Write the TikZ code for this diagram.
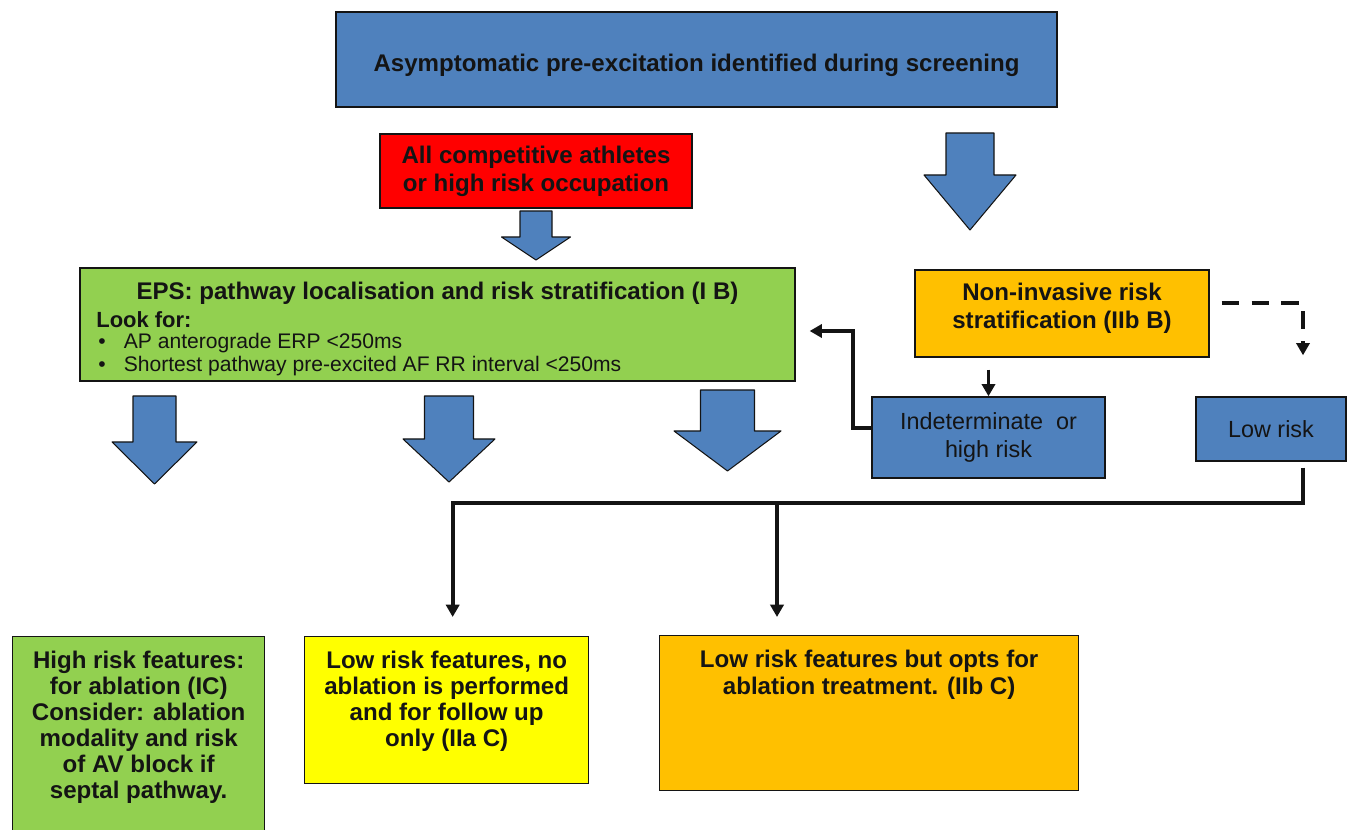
\documentclass[tikz,border=0pt]{standalone}
\usepackage{fontspec}
\setmainfont{Liberation Sans}
\definecolor{boxblue}{HTML}{4F81BD}
\definecolor{alertred}{HTML}{FF0000}
\definecolor{leafgreen}{HTML}{92D050}
\definecolor{amber}{HTML}{FFC000}
\definecolor{lemon}{HTML}{FFFF00}
\definecolor{inkblack}{HTML}{141414}
\usetikzlibrary{arrows.meta,positioning,calc}

% block arrow: centre x, top, shoulder, tip, shaft half width, head half width
\newcommand\blockarrow[6]{%
  \filldraw[fill=boxblue,draw=inkblack,line width=0.6pt,line join=round]
    (#1-#5,#2) -- (#1+#5,#2) -- (#1+#5,#3) -- (#1+#6,#3) -- (#1,#4)
    -- (#1-#6,#3) -- (#1-#5,#3) -- cycle;}

\begin{document}
\begin{tikzpicture}[x=0.02cm,y=-0.02cm,
  box/.style={draw=inkblack,line width=0.8pt,inner sep=0pt},
  bold/.style={text=inkblack,align=center,font=\fontsize{13.7pt}{16pt}\selectfont\bfseries},
  plain/.style={text=inkblack,align=center,font=\fontsize{13.3pt}{16pt}\selectfont},
  conn/.style={draw=inkblack,line width=2.1pt,-{Triangle[length=7pt,width=7.5pt]}},
  dconn/.style={conn,dash pattern=on 10pt off 7pt}]
  \useasboundingbox (0,0) rectangle (1349,830);

  % top row
  \node[box,fill=boxblue,minimum width=14.42cm,minimum height=1.9cm] (screen) at (696.5,59.5) {};
  \node[bold] (screenText) at (696.5,65) {Asymptomatic pre-excitation identified during screening};
  \node[box,bold,fill=alertred,minimum width=6.24cm,minimum height=1.48cm] (athletes) at (536,171)
    {All competitive athletes\\or high risk occupation};
  \blockarrow{536}{211}{237}{260}{16}{34.5}
  \blockarrow{970}{133}{175}{230}{24}{46}

  % EPS box
  \node[box,fill=leafgreen,minimum width=14.3cm,minimum height=2.26cm] (eps) at (437.5,324.5) {};
  \node[bold] (epsTitle) at (437.5,293) {EPS: pathway localisation and risk stratification (I B)};
  \node[text=inkblack,anchor=west,inner sep=0pt,font=\fontsize{12.5pt}{14pt}\selectfont\bfseries]
    (lookFor) at (96,320) {Look for:};
  \node[text=inkblack,anchor=west,inner sep=0pt,font=\fontsize{12pt}{14pt}\selectfont]
    (bulletA) at (98,343) {\makebox[14.5pt][l]{•}AP anterograde ERP <250ms};
  \node[text=inkblack,anchor=west,inner sep=0pt,font=\fontsize{12pt}{14pt}\selectfont]
    (bulletB) at (98,366) {\makebox[14.5pt][l]{•}Shortest pathway pre-excited AF RR interval <250ms};

  % non-invasive branch
  \node[box,bold,fill=amber,minimum width=5.88cm,minimum height=1.74cm] (noninv) at (1062,313.5)
    {Non-invasive risk\\stratification (IIb B)\\[-7pt]\mbox{}};
  \node[box,plain,fill=boxblue,minimum width=4.66cm,minimum height=1.62cm] (indet) at (988.5,437.5)
    {Indeterminate~ or\\high risk};
  \node[box,plain,fill=boxblue,minimum width=3cm,minimum height=1.28cm] (lowrisk) at (1271,429)
    {Low risk};

  \draw[conn] ($(noninv.south -| indet.north)+(0,12)$) -- (indet.north);
  \draw[conn] ([yshift=5.4pt]indet.west) -- ++(-18,0) |- ($(eps.east)+(14,6.5)$);
  \draw[dconn] ($(noninv.east)+(12,-10.5)$) -| ($(lowrisk.north)+(32,-41)$);

  % EPS outcomes
  \blockarrow{154.5}{396}{442}{484}{21.5}{42.5}
  \blockarrow{449}{396}{439}{482}{24.5}{46}
  \blockarrow{727.5}{390}{431}{471}{27}{53.5}

  % bottom row
  \node[box,fill=leafgreen,anchor=north west,minimum width=5.04cm,minimum height=4.1cm] (highabl) at (12,636) {};
  \node[bold,anchor=north,inner sep=0pt,font=\fontsize{13.7pt}{14.8pt}\selectfont\bfseries]
    (highablText) at ([yshift=-8.5pt]highabl.north)
    {High risk features:\\for ablation (IC)\\Consider: ablation\\modality and risk\\of AV block if\\septal pathway.};
  \node[box,fill=lemon,anchor=north west,minimum width=5.68cm,minimum height=2.94cm] (followup) at (304,636) {};
  \node[bold,anchor=north,inner sep=0pt,font=\fontsize{13.7pt}{14.8pt}\selectfont\bfseries]
    (followupText) at ([yshift=-8.5pt]followup.north)
    {Low risk features, no\\ablation is performed\\and for follow up\\only (IIa C)};
  \node[box,fill=amber,anchor=north west,minimum width=8.38cm,minimum height=3.1cm] (optabl) at (659,635) {};
  \node[bold,anchor=north,inner sep=0pt,font=\fontsize{13.7pt}{15.5pt}\selectfont\bfseries]
    (optablText) at ([yshift=-8.5pt]optabl.north)
    {Low risk features but opts for\\ablation treatment. (IIb C)};

  % low risk route to the outcomes
  \coordinate (busM) at (777,502);
  \draw[conn] ($(lowrisk.south)+(32,6)$) -- ++(0,35) -| ($(followup.north)+(6,-19)$);
  \draw[conn] (busM) -- ($(busM |- optabl.north)+(0,-18)$);
\end{tikzpicture}
\end{document}
